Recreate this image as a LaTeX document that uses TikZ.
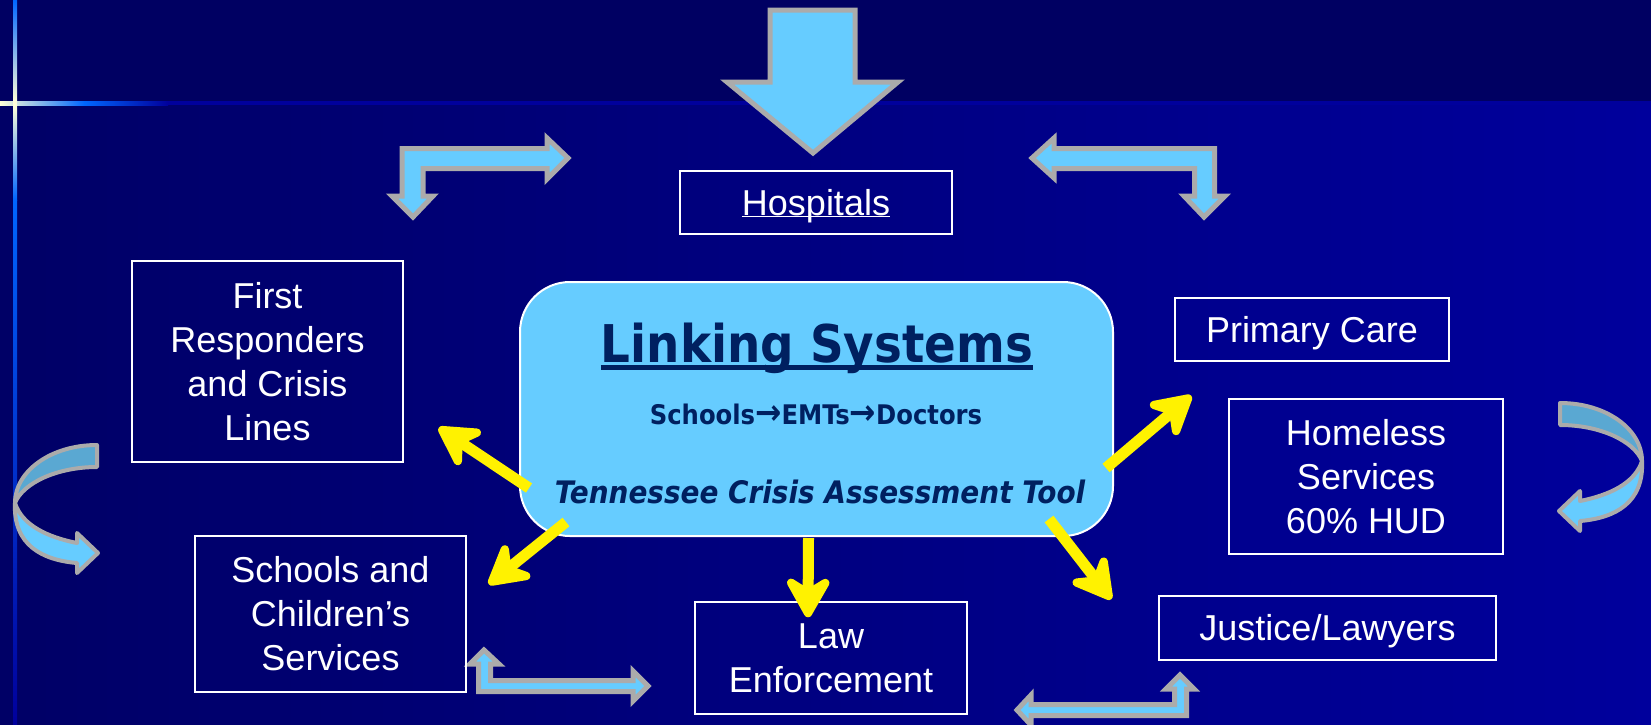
\documentclass[tikz,border=0pt]{standalone}
\usepackage{fontspec}
\setmainfont{Liberation Sans}
\newfontfamily\headfont{DejaVu Sans Condensed}
\usetikzlibrary{arrows.meta,calc}
\usepackage{xcolor}

\definecolor{bandnavy}{HTML}{000062}
\definecolor{deepnavy}{HTML}{000066}
\definecolor{royalnavy}{HTML}{00009C}
\definecolor{glowblue}{HTML}{0066FF}
\definecolor{sky}{HTML}{66CCFF}
\definecolor{skydark}{HTML}{5AA8D2}
\definecolor{rim}{HTML}{ABABAB}
\definecolor{ink}{HTML}{002060}

\newcommand{\hop}{{\fontsize{35}{35}\selectfont →}}

\begin{document}
\begin{tikzpicture}[x=1pt, y=-1pt,
  box/.style={draw=white, line width=1.5pt, text=white, align=center, inner sep=0pt,
    font=\fontsize{36}{44}\selectfont},
  oneline/.style={box, text height=32.6pt, text depth=7.6pt},
  block/.style={fill=sky, draw=rim, line width=5pt, line join=miter},
  feed/.style={draw=yellow, line width=11pt,
    -{Stealth[length=50pt, width=56pt, inset=17pt, round]}},
  heading/.style={anchor=base, inner sep=0pt, text=ink},
  uturn/.pic={
    \filldraw[block, fill=skydark, line width=4pt, line join=round]
      (0,0) .. controls (-46,0) and (-82,26) .. (-82,58)
      .. controls (-74,38) and (-40,22) .. (0,22) -- cycle;
    \filldraw[block, line width=4pt, line join=round]
      (-82,58) .. controls (-84,100) and (-55,115) .. (-20,118)
      -- (-20,128) -- (1,108) -- (-20,88) -- (-20,98)
      .. controls (-50,92) and (-75,80) .. (-82,58) -- cycle;
  }
]
\useasboundingbox (0,0) rectangle (1651,724);

% backdrop and rules
\fill[bandnavy] (0,0) rectangle (1651,103);
\shade[left color=deepnavy, right color=royalnavy] (0,103) rectangle (1651,724);
\shade[left color=yellow!15!white, right color=glowblue] (0,101) rectangle (84,105);
\shade[left color=glowblue, right color=royalnavy] (84,101) rectangle (168,105);
\fill[royalnavy] (168,101) rectangle (1651,105);
\shade[top color=glowblue, bottom color=yellow!15!white] (13,0) rectangle (17,101);
\shade[top color=yellow!15!white, bottom color=glowblue] (13,105) rectangle (17,200);
\shade[top color=glowblue, bottom color=royalnavy] (13,200) rectangle (17,724);
\fill[yellow!15!white] (13,101) rectangle (17,105);

% block arrows
\filldraw[block] (770,10) -- (855,10) -- (855,82) -- (898,82) -- (813,153) -- (727,82) -- (770,82) -- cycle;
\filldraw[block] (402,148.5) -- (547,148.5) -- (547,138) -- (568,158) -- (547,179) -- (547,168.5)
  -- (423,168.5) -- (423,196) -- (433,196) -- (413,217) -- (392,196) -- (402,196) -- cycle;
\filldraw[block] (1032,158) -- (1054,138) -- (1054,148.5) -- (1214.5,148.5) -- (1214.5,196)
  -- (1225,196) -- (1204,217) -- (1184,196) -- (1194.5,196) -- (1194.5,168.5) -- (1054,168.5)
  -- (1054,178) -- cycle;
\filldraw[block] (484,650) -- (499,664) -- (490.5,664) -- (490.5,680.5) -- (633,680.5) -- (633,671)
  -- (648,686) -- (633,701) -- (633,691.5) -- (478.5,691.5) -- (478.5,664) -- (470,664) -- cycle;
\filldraw[block] (1180,675) -- (1194,689) -- (1186.5,689) -- (1186.5,715.5) -- (1031,715.5)
  -- (1031,725) -- (1017,710) -- (1031,695) -- (1031,704.5) -- (1174.5,704.5) -- (1174.5,689)
  -- (1166,689) -- cycle;
\pic at (97,445) {uturn};
\pic[xscale=-1] at (1560,403) {uturn};

% services
\node[oneline, minimum width=272pt, minimum height=63pt] (hosp) at (816,202.5) {\underline{\smash{Hospitals}}};
\node[box, minimum width=271pt, minimum height=201pt] (first) at (267.5,361.5) {First\\Responders\\and Crisis\\Lines};
\node[box, minimum width=271pt, minimum height=156pt] (school) at (330.5,614) {Schools and\\Children’s\\Services};
\node[box, minimum width=272pt, minimum height=112pt] (law) at (831,658) {Law\\Enforcement};
\node[oneline, minimum width=274pt, minimum height=63pt] (primary) at (1312,329.5) {Primary Care};
\node[box, minimum width=274pt, minimum height=155pt] (homeless) at (1366,476.5) {Homeless\\Services\\60\% HUD};
\node[oneline, minimum width=337pt, minimum height=64pt] (justice) at (1327.5,628) {Justice/Lawyers};

% hub
\node[draw=white, line width=2pt, fill=sky, rounded corners=50pt,
  minimum width=593pt, minimum height=254pt] (hub) at (816.5,409) {};
\node[heading, font=\headfont\bfseries\fontsize{52}{60}\selectfont] (title) at (817,362) {Linking Systems};
\draw[ink, line width=5pt] ($(title.base west)+(0,5)$) -- ($(title.base east)+(0,5)$);
\node[heading, font=\headfont\bfseries\fontsize{27}{32}\selectfont] (route) at (816,424) {Schools\hop EMTs\hop Doctors};
\node[heading, font=\headfont\bfseries\itshape\fontsize{31}{36}\selectfont] (tool) at (820,503) {Tennessee Crisis Assessment Tool};

\draw[feed] ($(hub.south west)+(10,-49)$) -- ($(first.south east)+(35,-35)$);
\draw[feed] ($(hub.south west)+(47,-15)$) -- ($(school.north east)+(22,49)$);
\draw[feed] ($(hub.south)+(-8,1)$) -- ($(law.north)+(-23,16)$);
\draw[feed] ($(hub.east)+(-8,59)$) -- ($(primary.south west)+(17,34)$);
\draw[feed] ($(hub.south east)+(-65,-18)$) -- ($(justice.north west)+(-47,4)$);
\end{tikzpicture}
\end{document}
